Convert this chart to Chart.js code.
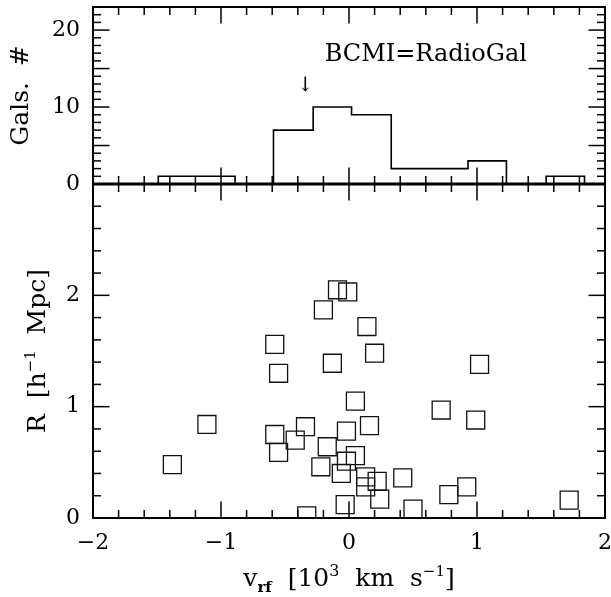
<!DOCTYPE html>
<html lang="en">
<head>
  <meta charset="UTF-8">
  <title>BCMI = RadioGal</title>
  <script src="https://cdn.jsdelivr.net/npm/chart.js"></script>
  <style>
    html, body { margin: 0; padding: 0; background: #fff; overflow: hidden; }
    #wrap { position: relative; width: 611px; height: 597px; }
    canvas { display: block; }
  </style>
</head>
<body>
  <div id="wrap"><canvas id="chart" width="611" height="597"></canvas></div>
  <script>
    // histogram of rest-frame velocities (top panel)
    const binEdges = [-1.49, -1.19, -0.89, -0.59, -0.28, 0.02, 0.33, 0.63, 0.93, 1.23, 1.54, 1.84];
    const binCounts = [1, 1, 0, 7, 10, 9, 2, 2, 3, 0, 1];

    // galaxies: velocity (10^3 km/s) and projected radius (h^-1 Mpc)
    const velocity = [-0.09, -0.01, -0.20, 0.14, -0.58, 0.20, -0.13, 1.02, -0.55, 0.05,
      0.72, 0.99, -1.11, 0.16, -0.34, -0.02, -0.58, -0.42, -0.17, -0.55,
      0.05, -0.02, -1.38, -0.22, -0.06, 0.13, 0.42, 0.22, 0.13, 0.92,
      0.78, 0.24, 1.72, -0.03, 0.50, -0.33];
    const radius = [2.05, 2.03, 1.87, 1.72, 1.56, 1.48, 1.39, 1.38, 1.30, 1.05,
      0.97, 0.88, 0.84, 0.83, 0.82, 0.78, 0.75, 0.70, 0.64, 0.59,
      0.56, 0.51, 0.48, 0.46, 0.40, 0.37, 0.36, 0.33, 0.28, 0.28,
      0.21, 0.17, 0.16, 0.12, 0.08, 0.02];

    const xTicks = [-2, -1, 0, 1, 2];
    const countTicks = [0, 5, 10, 15, 20];
    const radiusTicks = [0, 1, 2];
    const arrowVel = -0.34;
    const arrowCount = 12.8;
    const labelText = 'BCMI=RadioGal';

    const FONT = '"DejaVu Serif", serif';

    // outline of the histogram as a stepped line
    const histLine = [{ x: binEdges[0], y: 0 }];
    binCounts.forEach((c, i) => histLine.push({ x: binEdges[i], y: c }));
    histLine.push({ x: binEdges[binEdges.length - 1], y: 0 });

    function minus(v) {
      return v < 0 ? '\u2212' + Math.abs(v) : String(v);
    }

    // draws a line of text made of pieces (superscripts / subscripts)
    function richText(ctx, parts, x, y) {
      let total = 0;
      parts.forEach(p => {
        ctx.font = (p.bold ? 'bold ' : '') + p.size + 'px ' + FONT;
        p.w = ctx.measureText(p.t).width;
        total += p.w;
      });
      let cx = x - total / 2;
      parts.forEach(p => {
        ctx.font = (p.bold ? 'bold ' : '') + p.size + 'px ' + FONT;
        ctx.fillText(p.t, cx, y + (p.dy || 0));
        cx += p.w;
      });
    }

    function noPad(s) {
      s.paddingLeft = 0; s.paddingRight = 0; s.paddingTop = 0; s.paddingBottom = 0;
    }

    const framePlugin = {
      id: 'frame',
      afterDatasetsDraw(chart) {
        const ctx = chart.ctx;
        const { left, right } = chart.chartArea;
        const sx = chart.scales.x, sn = chart.scales.yN, sr = chart.scales.yR;
        ctx.save();
        ctx.strokeStyle = '#000';
        ctx.fillStyle = '#000';

        // inward tick marks
        ctx.lineWidth = 1.5;
        const big = 16.5, small = 8;
        function xMarks(yEdge, dir) {
          for (let i = 0; i < xTicks.length; i++) {
            const px = sx.getPixelForValue(xTicks[i]);
            ctx.beginPath(); ctx.moveTo(px, yEdge); ctx.lineTo(px, yEdge + dir * big); ctx.stroke();
            if (i < xTicks.length - 1) {
              const step = (xTicks[i + 1] - xTicks[i]) / 5;
              for (let k = 1; k < 5; k++) {
                const mx = sx.getPixelForValue(xTicks[i] + k * step);
                ctx.beginPath(); ctx.moveTo(mx, yEdge); ctx.lineTo(mx, yEdge + dir * small); ctx.stroke();
              }
            }
          }
        }
        function yMarks(scale, step, minorN) {
          for (let v = scale.min; v <= scale.max + 1e-9; v += step / minorN) {
            const r = Math.round(v * 1000) / 1000;
            const isMajor = Math.abs(r / step - Math.round(r / step)) < 1e-6;
            const len = isMajor ? big : small;
            const py = scale.getPixelForValue(r);
            ctx.beginPath(); ctx.moveTo(left, py); ctx.lineTo(left + len, py); ctx.stroke();
            ctx.beginPath(); ctx.moveTo(right, py); ctx.lineTo(right - len, py); ctx.stroke();
          }
        }
        xMarks(sn.top, 1);
        xMarks(sn.bottom, -1);
        xMarks(sr.top, 1);
        xMarks(sr.bottom, -1);
        yMarks(sn, 5, 5);
        yMarks(sr, 1, 5);

        // panel borders
        ctx.lineWidth = 2;
        ctx.strokeRect(left, sn.top, right - left, sr.bottom - sn.top);
        ctx.lineWidth = 3;
        ctx.beginPath(); ctx.moveTo(left, sn.bottom); ctx.lineTo(right, sn.bottom); ctx.stroke();

        // annotation and arrow
        ctx.textBaseline = 'middle';
        ctx.textAlign = 'left';
        ctx.font = '24px ' + FONT;
        ctx.fillText(labelText, sx.getPixelForValue(-0.19), sn.getPixelForValue(16.8));
        ctx.textAlign = 'center';
        ctx.font = '20px ' + FONT;
        ctx.fillText('\u2193', sx.getPixelForValue(arrowVel), sn.getPixelForValue(arrowCount));

        // axis titles
        ctx.textBaseline = 'alphabetic';
        ctx.textAlign = 'left';
        richText(ctx, [
          { t: 'v', size: 25 },
          { t: 'rf', size: 15, dy: 6, bold: true },
          { t: '  [10', size: 25 },
          { t: '3', size: 16, dy: -10 },
          { t: '  km  s', size: 25 },
          { t: '\u22121', size: 15, dy: -10 },
          { t: ']', size: 25 }
        ], (left + right) / 2, 586);

        ctx.save();
        ctx.translate(36, (sr.top + sr.bottom) / 2);
        ctx.rotate(-Math.PI / 2);
        richText(ctx, [
          { t: 'R  [h', size: 25 },
          { t: '\u22121', size: 15, dy: -10 },
          { t: '  Mpc]', size: 25 }
        ], 0, 9);
        ctx.restore();

        ctx.save();
        ctx.translate(19, (sn.top + sn.bottom) / 2);
        ctx.rotate(-Math.PI / 2);
        richText(ctx, [{ t: 'Gals.  #', size: 25 }], 0, 9);
        ctx.restore();

        ctx.restore();
      }
    };

    const tickFont = { family: FONT, size: 22 };

    new Chart(document.getElementById('chart'), {
      type: 'scatter',
      data: {
        datasets: [
          {
            label: 'histogram',
            data: histLine,
            yAxisID: 'yN',
            showLine: true,
            stepped: 'before',
            pointRadius: 0,
            borderColor: '#000',
            borderWidth: 1.6,
            fill: false
          },
          {
            label: 'galaxies',
            data: velocity.map((v, i) => ({ x: v, y: radius[i] })),
            yAxisID: 'yR',
            pointStyle: 'rect',
            pointRadius: 12.7,
            borderColor: '#111',
            borderWidth: 1.3,
            backgroundColor: 'rgba(0,0,0,0)'
          }
        ]
      },
      options: {
        responsive: false,
        animation: false,
        layout: { autoPadding: false, padding: { top: 7, right: 6, left: 0, bottom: 0 } },
        plugins: { legend: { display: false }, tooltip: { enabled: false } },
        scales: {
          x: {
            type: 'linear', position: 'bottom', min: -2, max: 2,
            grid: { display: false, drawTicks: false },
            border: { display: false },
            afterBuildTicks: s => { s.ticks = xTicks.map(v => ({ value: v })); },
            afterFit: s => { s.height = 79; noPad(s); },
            ticks: { font: tickFont, color: '#000', padding: 12, maxRotation: 0, callback: v => minus(v) }
          },
          yR: {
            type: 'linear', position: 'left', min: 0, max: 3,
            stack: 'panels', stackWeight: 334,
            grid: { display: false, drawTicks: false },
            border: { display: false },
            afterBuildTicks: s => { s.ticks = radiusTicks.map(v => ({ value: v })); },
            afterFit: s => { s.width = 93; noPad(s); },
            ticks: { font: tickFont, color: '#000', padding: 13 }
          },
          yN: {
            type: 'linear', position: 'left', min: 0, max: 23,
            stack: 'panels', stackWeight: 177,
            grid: { display: false, drawTicks: false },
            border: { display: false },
            afterBuildTicks: s => { s.ticks = countTicks.map(v => ({ value: v })); },
            afterFit: s => { s.width = 93; noPad(s); },
            ticks: { font: tickFont, color: '#000', padding: 13 }
          }
        }
      },
      plugins: [framePlugin]
    });
  </script>
</body>
</html>
